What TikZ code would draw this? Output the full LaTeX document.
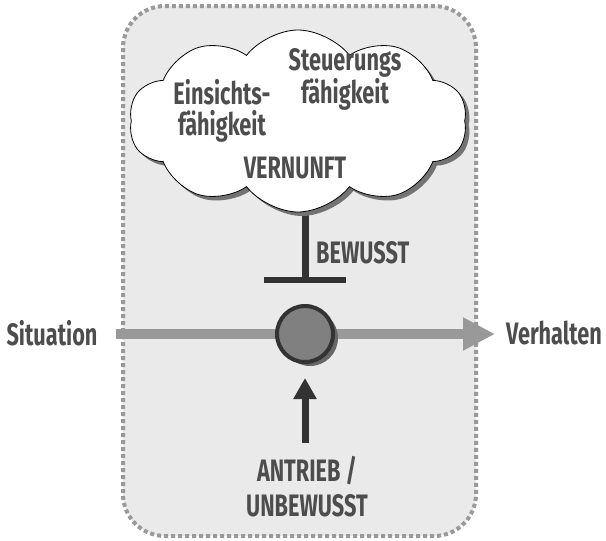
\documentclass[tikz,border=0pt]{standalone}
\usepackage{fontspec}
\setmainfont{Fira Sans}[FakeStretch=0.7]
\usepackage{xcolor}
\usepackage{tikz}
\usetikzlibrary{shapes.symbols,shadows,arrows.meta,positioning}
\definecolor{txtgray}{HTML}{4D4D4D}
\definecolor{boxgray}{HTML}{EAEAEA}
\definecolor{dotgray}{HTML}{999999}
\definecolor{darkline}{HTML}{333333}
\definecolor{flowgray}{HTML}{999999}
\pgfdeclarelayer{back}
\pgfdeclarelayer{mid}
\pgfsetlayers{back,mid,main}

\tikzset{
    label/.style={text=txtgray, font=\fontsize{31}{31}\selectfont\bfseries, align=center, inner sep=0pt},
    shade/.style={drop shadow={shadow xshift=4pt, shadow yshift=-4pt, fill=gray!90!black, opacity=1}},
}

\begin{document}
\begin{tikzpicture}[x=1pt, y=-1pt]
    \useasboundingbox (0,0) rectangle (606,541);

    % Frame
    \begin{pgfonlayer}{back}
    \draw[dotgray, line width=4pt, dash pattern=on 4pt off 3pt, fill=boxgray, rounded corners=42pt]
        (123,6) rectangle (476,536);
    \end{pgfonlayer}

    % Reason cloud
    \node[cloud, cloud puffs=10, cloud puff arc=105, cloud ignores aspect,
          draw=black, thick, fill=white,
          minimum width=338pt, minimum height=182pt, shade] (cloud) at (298,121) {};
    \node[label] (insight) at (222,111) {Einsichts-\\fähigkeit};
    \node[label] (control) at (345,79) {Steuerungs\\fähigkeit};
    \node[label] (reason) at (295,168) {VERNUNFT};

    % Conscious inhibition
    \coordinate (block) at (305,280);
    \begin{pgfonlayer}{mid}
    \draw[darkline, line width=7pt] (block |- cloud.center) -- (block);
    \end{pgfonlayer}
    \draw[darkline, line width=6pt] ([xshift=-41pt]block) -- ([xshift=41pt]block);
    \node[label, right] (conscious) at (316,253) {BEWUSST};

    % Flow
    \node[label] (situation) at (52,333) {Situation};
    \node[label] (behaviour) at (554,333) {Verhalten};
    \coordinate (flowin) at (116,334);
    \coordinate (flowout) at (495,334);
    \draw[flowgray, line width=10pt, -{Triangle[length=32pt, width=31pt]}] (flowin) -- (flowout);

    % State
    \node[circle, draw=darkline, line width=4pt, fill=gray!100, minimum size=56pt, inner sep=0pt,
          drop shadow={shadow xshift=5pt, shadow yshift=-4pt, fill=gray!80!black, opacity=1}] (state) at (305,334) {};

    % Drive
    \coordinate (drive) at (305,443);
    \draw[darkline, line width=7pt, -{Triangle[length=21pt, width=22pt]}] (drive) -- ([yshift=-14pt]state.south);
    \node[label, font=\fontsize{31}{35}\selectfont\bfseries] (impulse) at (307,487) {ANTRIEB /\\UNBEWUSST};
\end{tikzpicture}
\end{document}
